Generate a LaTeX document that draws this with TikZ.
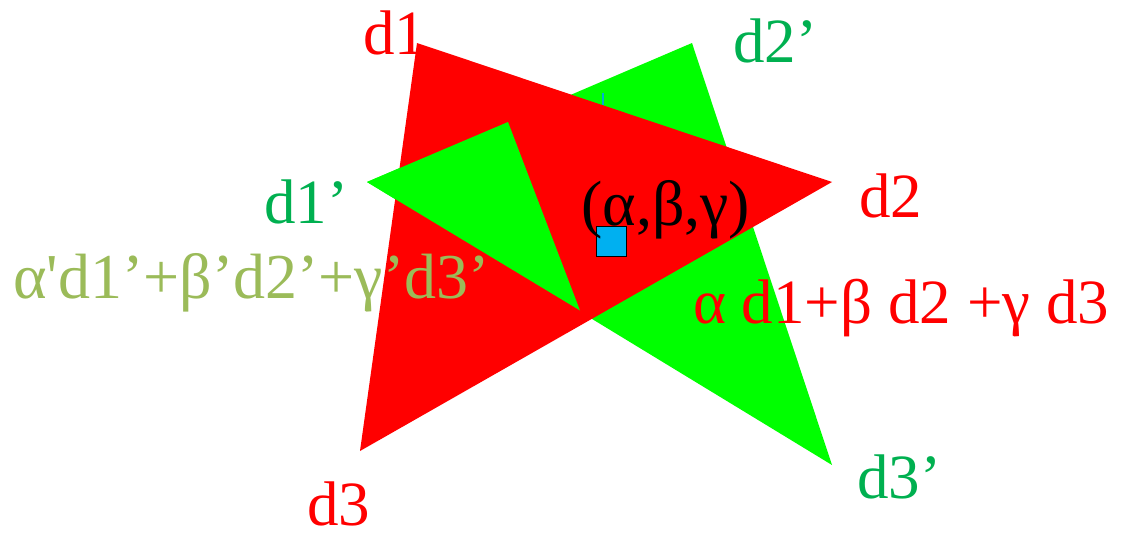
\documentclass[tikz,border=0pt]{standalone}
\usepackage{fontspec}
\setmainfont{Liberation Serif}
\definecolor{tred}{HTML}{FF0000}
\definecolor{tgreen}{HTML}{00FF00}
\definecolor{lgreen}{HTML}{00B050}
\definecolor{olive}{HTML}{9BBB59}
\definecolor{sqblue}{HTML}{00B0F0}
\begin{document}
\begin{tikzpicture}[x=1pt,y=-1pt,
  lbl/.style={anchor=base west,inner sep=0pt,font=\fontsize{63}{70}\selectfont},
  redlbl/.style={lbl,text=tred},
  grnlbl/.style={lbl,text=lgreen}]
\useasboundingbox (0,0) rectangle (1130,538);
% red triangle vertices
\coordinate (d1) at (417,43);
\coordinate (d2) at (832,182);
\coordinate (d3) at (360,451);
% green triangle vertices
\coordinate (e1) at (367,182);
\coordinate (e2) at (692,43);
\coordinate (e3) at (832,465);
\coordinate (e12) at (508,122);
\coordinate (e13) at (580,310.5);
% layers
\fill[tgreen] (e1) -- (e2) -- (e3) -- cycle;
\fill[tred] (d1) -- (d2) -- (d3) -- cycle;
\fill[tgreen] (e1) -- (e12) -- (e13) -- cycle;
\coordinate (tickA) at (603,93);
\coordinate (tickB) at (603,105);
\draw[cyan!60!green!40!cyan,line width=1.2pt] (tickA) -- (tickB);
% barycentric point
\node[draw=black,fill=sqblue,line width=0.8pt,minimum size=30pt,inner sep=0pt] (pt) at (611.5,241) {};
% labels
\node[redlbl] (L1) at (363,54) {d1};
\node[redlbl] (L2) at (859,217) {d2};
\node[redlbl] (L3) at (307,525) {d3};
\node[grnlbl] (M1) at (264,223) {d1’};
\node[grnlbl] (M2) at (733,62) {d2’};
\node[grnlbl] (M3) at (857,498) {d3’};
\node[lbl,font=\fontsize{64}{70}\selectfont] (abc) at (581,225) {(α,β,γ)};
\node[lbl,text=olive,font=\fontsize{64}{70}\selectfont] (sumg) at (13,298) {α\textquotesingle d1’+β’d2’+γ’d3’};
\node[redlbl] (sumr) at (693,323) {α d1+β d2 +γ d3};
\end{tikzpicture}
\end{document}
